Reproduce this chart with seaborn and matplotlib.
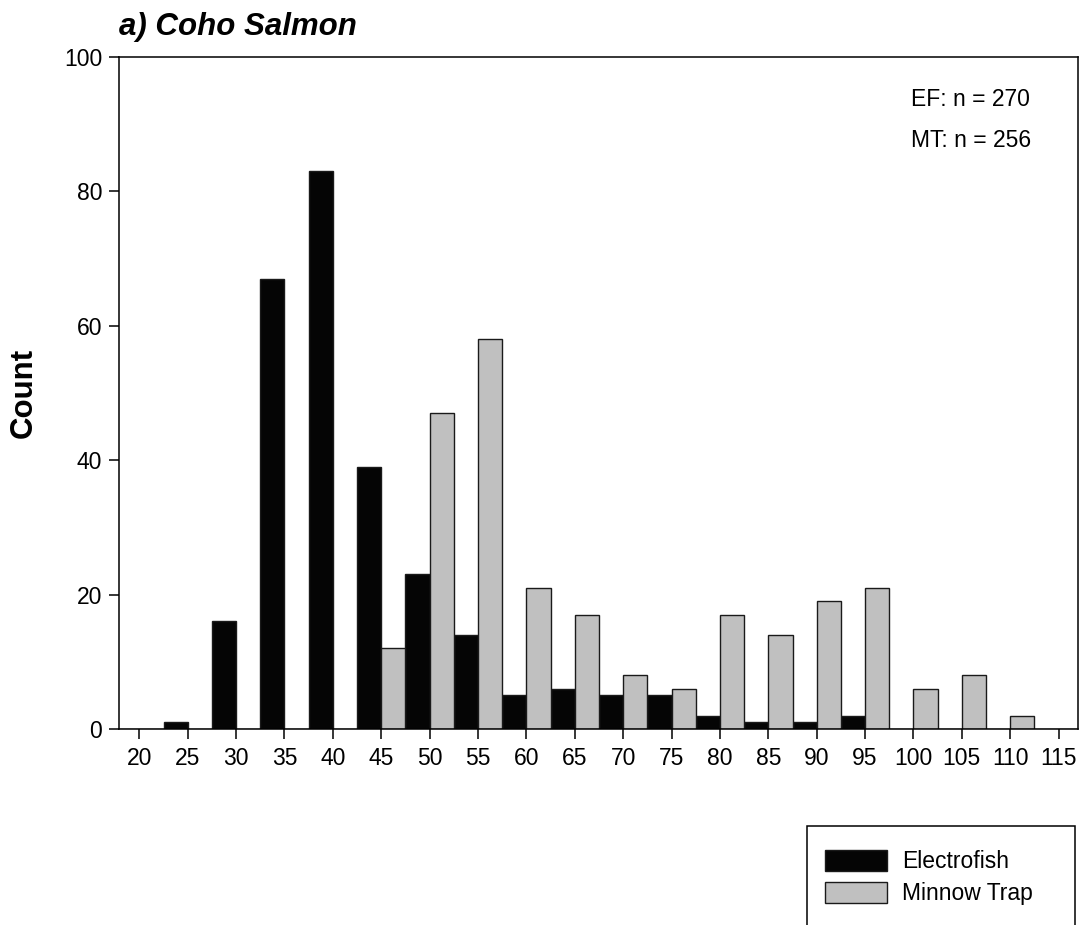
#!/usr/bin/env python3
"""Length-frequency histogram of coho salmon by capture method."""

import matplotlib.pyplot as plt
import pandas as pd
import seaborn as sns
from matplotlib.patches import Rectangle

lengths = [20, 25, 30, 35, 40, 45, 50, 55, 60, 65, 70, 75, 80, 85, 90, 95, 100, 105, 110, 115]
electrofish = [0, 1, 16, 67, 83, 39, 23, 14, 5, 6, 5, 5, 2, 1, 1, 2, 0, 0, 0, 0]
minnow_trap = [0, 0, 0, 0, 0, 12, 47, 58, 21, 17, 8, 6, 17, 14, 19, 21, 6, 8, 2, 0]
methods = ["Electrofish", "Minnow Trap"]
n_labels = ["EF: n = 270", "MT: n = 256"]

sns.set_theme(style="ticks")
plt.rcParams["font.family"] = ["Liberation Sans", "DejaVu Sans"]
plt.rcParams["axes.linewidth"] = 1.1
plt.rcParams["xtick.major.width"] = 1.1
plt.rcParams["ytick.major.width"] = 1.1
for key in ["text.color", "axes.labelcolor", "xtick.color", "ytick.color", "axes.edgecolor"]:
    plt.rcParams[key] = "black"

df = pd.DataFrame(
    {
        "length": lengths * 2,
        "count": electrofish + minnow_trap,
        "method": [methods[0]] * len(lengths) + [methods[1]] * len(lengths),
    }
)

fig = plt.figure(figsize=(10.86, 9.25), dpi=100)
ax = fig.add_axes([0.1096, 0.2119, 0.8830, 0.7265])

sns.barplot(
    data=df,
    x="length",
    y="count",
    hue="method",
    hue_order=methods,
    palette={methods[0]: "#050505", methods[1]: "#c0c0c0"},
    native_scale=True,
    width=1.0,
    gap=0,
    saturation=1,
    errorbar=None,
    edgecolor="#1a1a1a",
    linewidth=1.0,
    ax=ax,
)

ax.set_xlim(17.9, 117)
ax.set_ylim(0, 100)
ax.set_xticks(lengths)
ax.set_xticklabels([str(v) for v in lengths])
ax.set_yticks([0, 20, 40, 60, 80, 100])
ax.tick_params(axis="both", labelsize=16.5, length=7, direction="out")
ax.tick_params(axis="x", pad=6)
ax.tick_params(axis="y", pad=5)
for side in ax.spines.values():
    side.set_visible(True)

ax.set_xlabel("")
ax.set_ylabel("Count", fontsize=22.5, fontweight="bold", labelpad=18)
ax.set_title("a) Coho Salmon", loc="left", fontsize=22.5, fontweight="bold",
             fontstyle="italic", pad=16)

ax.text(0.826, 0.936, n_labels[0], transform=ax.transAxes, fontsize=16.5, va="center")
ax.text(0.826, 0.876, n_labels[1], transform=ax.transAxes, fontsize=16.5, va="center")

handles, labels = ax.get_legend_handles_labels()
ax.get_legend().remove()
fig.legend(
    handles,
    labels,
    loc="upper left",
    bbox_to_anchor=(0.7597, 0.0810),
    frameon=False,
    fontsize=16.5,
    handlelength=2.7,
    handleheight=1.0,
    handletextpad=0.65,
    labelspacing=0.4,
    borderpad=0,
    borderaxespad=0,
)
fig.add_artist(Rectangle((0.743, -0.02), 0.247, 0.127, transform=fig.transFigure,
                         fill=False, edgecolor="black", linewidth=1.1))

fig.savefig("out.png", dpi=100, facecolor="white")
